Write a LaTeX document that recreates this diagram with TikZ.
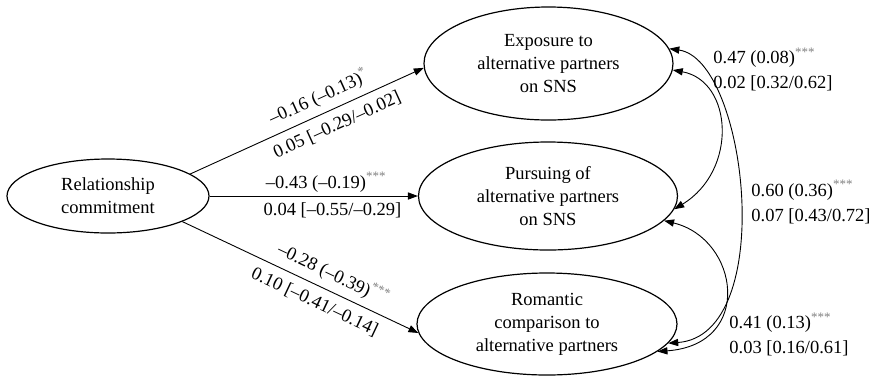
\documentclass[tikz,border=0pt]{standalone}
\usepackage{fontspec}
\setmainfont{Liberation Serif}
\usetikzlibrary{shapes.geometric,arrows.meta}
\newcommand{\sigstar}[1]{\textcolor{gray}{\textsuperscript{#1}}}

\begin{document}
\begin{tikzpicture}[x=0.5pt, y=-0.5pt,
    latent/.style = {ellipse, draw, line width=0.6pt, inner sep=0pt, align=center},
    conn/.style   = {line width=0.45pt},
    coef/.style   = {inner sep=1.5pt},
    covtext/.style = {inner sep=1.5pt, anchor=west, align=left,
                      font=\fontsize{9.25}{12.5}\selectfont},
    >={Triangle[length=5pt,width=3.6pt]}]
  \tikzset{every node/.style={font=\fontsize{9.25}{11.5}\selectfont}}
  \useasboundingbox (0,0) rectangle (869,377);

  \node [latent, minimum width=101pt, minimum height=37pt] (rel) at (108,196)
    {Relationship\\commitment};
  \node [latent, minimum width=124.5pt, minimum height=56.5pt] (exp) at (548.5,63.5)
    {Exposure to\\alternative partners\\on SNS};
  \node [latent, minimum width=129.5pt, minimum height=54pt] (pur) at (548,196)
    {Pursuing of\\alternative partners\\on SNS};
  \node [latent, minimum width=130pt, minimum height=51pt] (rom) at (547,324)
    {Romantic\\comparison to\\alternative partners};

  \path
    (rel.15) edge [->, conn]
      node (pExpUp) [coef, sloped, above=1.8pt, pos=0.58] {–0.16 (–0.13)\sigstar{*}}
      node (pExpDn) [coef, sloped, below=2.6pt, pos=0.6] {0.05 [–0.29/–0.02]} (exp.182)
    (rel.east) edge [->, conn]
      node (pPurUp) [coef, above, pos=0.56] {–0.43 (–0.19)\sigstar{***}}
      node (pPurDn) [coef, below=1.5pt, pos=0.59] {0.04 [–0.55/–0.29]} (pur.west)
    (rel.-19) edge [->, conn]
      node (pRomUp) [coef, sloped, above=1.8pt, pos=0.61] {–0.28 (–0.39)\sigstar{***}}
      node (pRomDn) [coef, sloped, below=2.6pt, pos=0.59] {0.10 [–0.41/–0.14]} (rom.184);

  % covariances
  \draw [<->, conn] (exp.-3) .. controls +(60,11) and +(64,-39) .. (pur.-6);
  \draw [<->, conn] (exp.7) .. controls +(78,11) and +(110,-8) .. (rom.-9);
  \draw [<->, conn] (pur.-12) .. controls +(75,18) and +(97,-7) .. (rom.-14);

  \node [covtext] (cExpPur) at (710,69.5) {0.47 (0.08)\sigstar{***}\\0.02 [0.32/0.62]};
  \node [covtext] (cExpRom) at (748,202) {0.60 (0.36)\sigstar{***}\\0.07 [0.43/0.72]};
  \node [covtext] (cPurRom) at (726,334.5) {0.41 (0.13)\sigstar{***}\\0.03 [0.16/0.61]};
\end{tikzpicture}
\end{document}
